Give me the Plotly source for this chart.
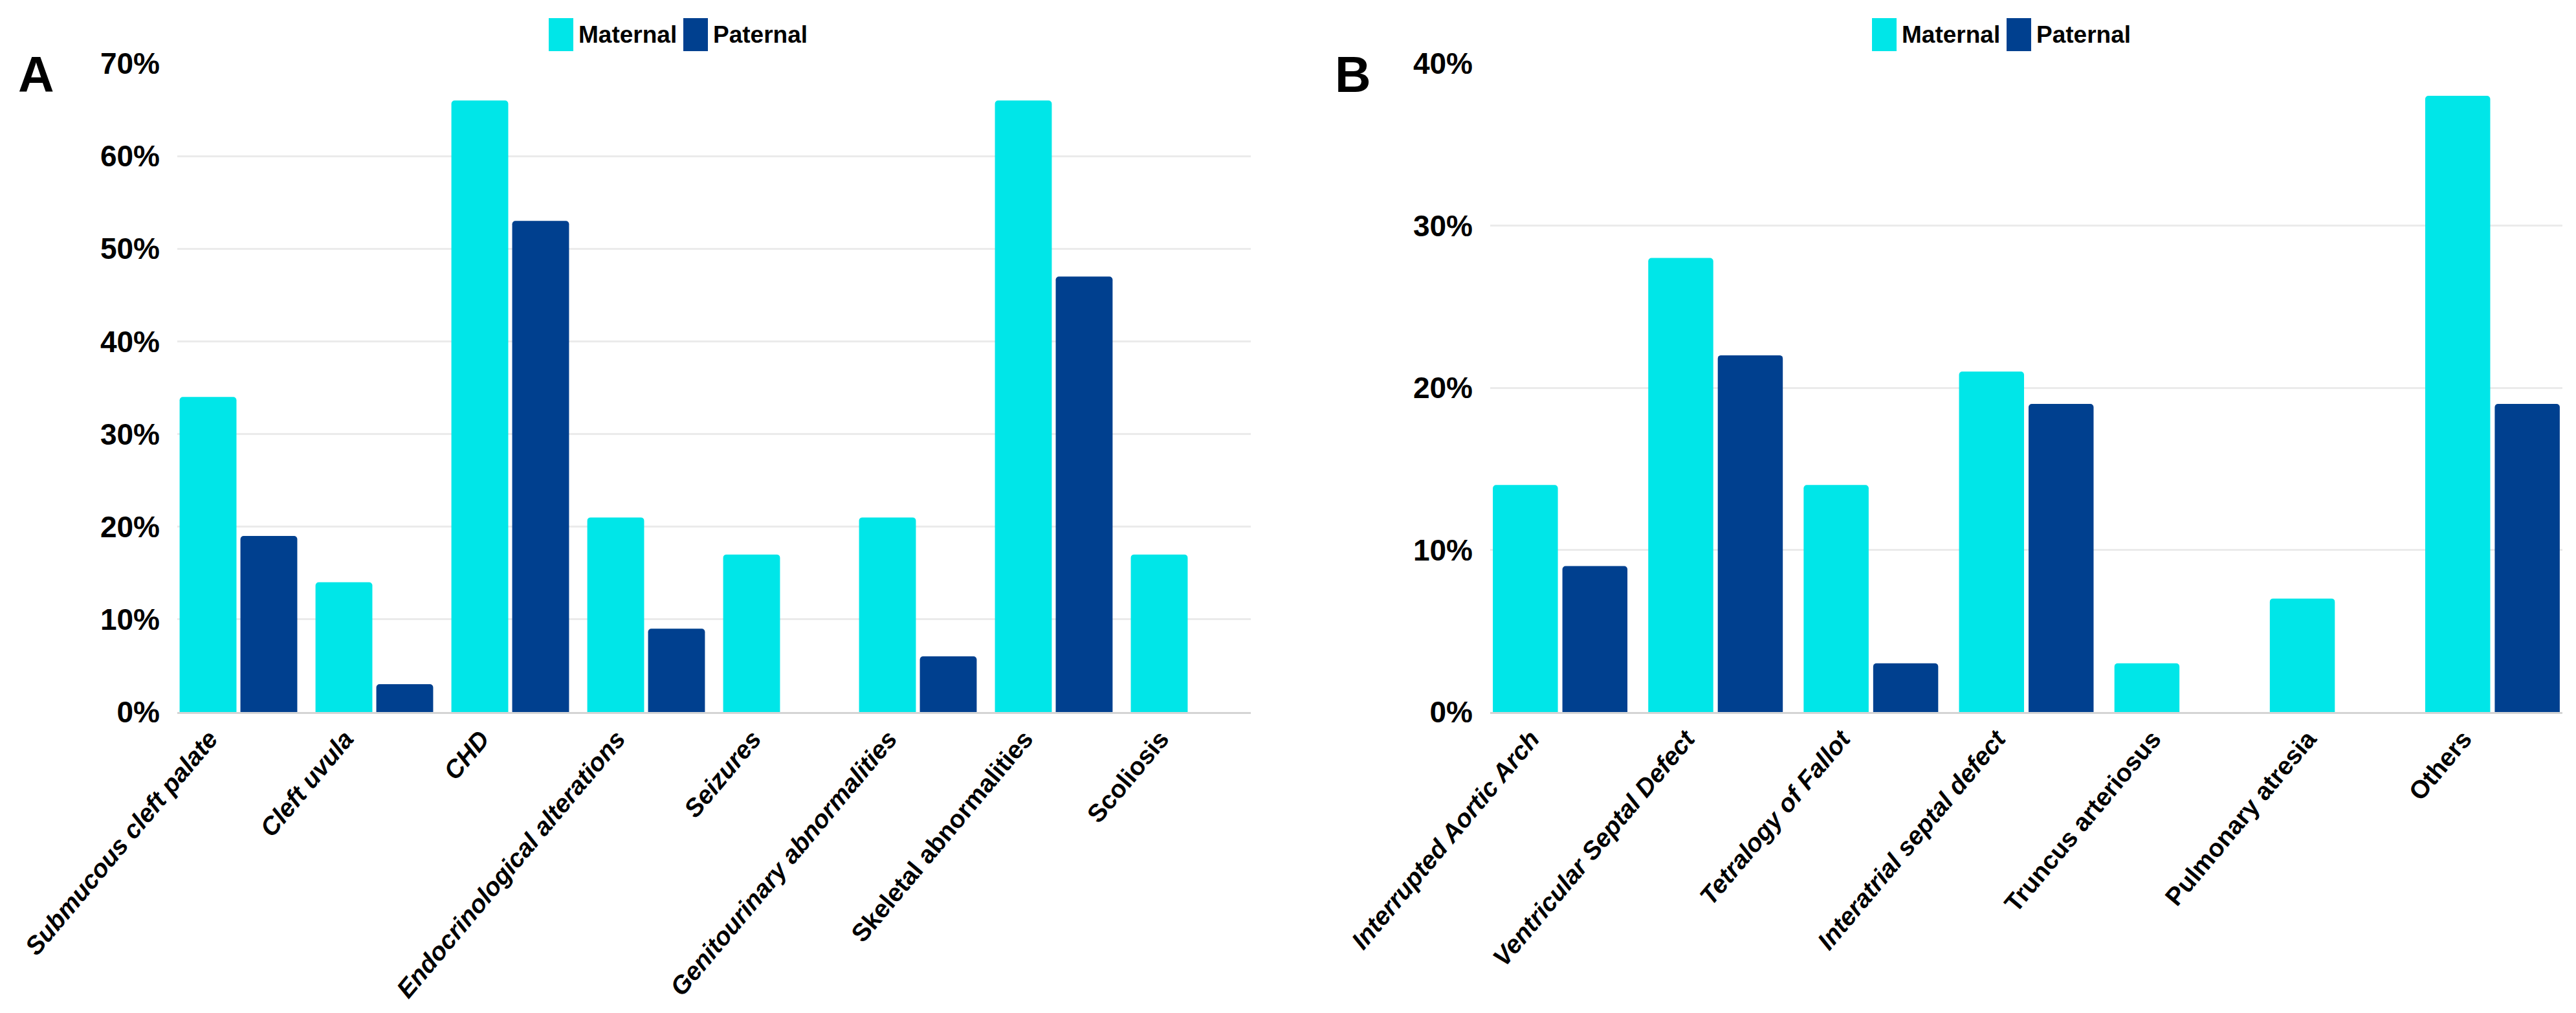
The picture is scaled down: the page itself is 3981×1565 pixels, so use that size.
import plotly.graph_objects as go

# ---------------- data ----------------
categories_a = ["Submucous cleft palate", "Cleft uvula", "CHD", "Endocrinological alterations",
                "Seizures", "Genitourinary abnormalities", "Skeletal abnormalities", "Scoliosis"]
maternal_a = [34, 14, 66, 21, 17, 21, 66, 17]
paternal_a = [19, 3, 53, 9, 0, 6, 47, 0]
italic_a = [True, True, True, True, True, True, False, False]

categories_b = ["Interrupted Aortic Arch", "Ventricular Septal Defect", "Tetralogy of Fallot",
                "Interatrial septal defect", "Truncus arteriosus", "Pulmonary atresia", "Others"]
maternal_b = [14, 28, 14, 21, 3, 7, 38]
paternal_b = [9, 22, 3, 19, 0, 0, 19]
italic_b = [True, True, True, True, False, False, False]

series_names = ["Maternal", "Paternal"]
y_ticks_a = [0, 10, 20, 30, 40, 50, 60, 70]
y_ticks_b = [0, 10, 20, 30, 40]
panel_labels = ["A", "B"]

# ---------------- style ----------------
W, H = 3981, 1565
COL_MAT = "#00E6E8"
COL_PAT = "#00408F"
colors = [COL_MAT, COL_PAT]
FONT = "Liberation Sans, Arial, sans-serif"

def px_x(p):
    return p / W

def px_y(p):
    return 1 - p / H

def tick_text(cats, italics):
    return [f"<i>{c}</i>" if it else c for c, it in zip(cats, italics)]

fig = go.Figure()

panels = [
    (categories_a, [maternal_a, paternal_a], "x", "y"),
    (categories_b, [maternal_b, paternal_b], "x2", "y2"),
]
for cats, series, xa, ya in panels:
    for name, vals, col in zip(series_names, series, colors):
        fig.add_trace(go.Bar(
            x=cats, y=vals, name=name, xaxis=xa, yaxis=ya,
            marker=dict(color=col, line=dict(width=0), cornerradius=5),
            showlegend=False,
        ))

# plot area geometry (pixels)
A_left, A_right = 266, 1925
B_left, B_right = 2295, 3952
top_px, bot_px = 90, 1092
ydom = [px_y(bot_px), px_y(top_px)]

common_x = dict(
    type="category", tickangle=-50, showgrid=False, zeroline=False,
    showline=True, linecolor="#D4D4D4", linewidth=3, ticks="",
    ticklabelshift=-45,
    tickfont=dict(family=FONT, size=39, color="#000000", weight="bold"),
    automargin=False, fixedrange=True,
)
common_y = dict(
    showgrid=True, gridcolor="#EBEBEB", gridwidth=3, zeroline=False,
    showline=False, ticks="", ticklabelstandoff=26,
    tickfont=dict(family=FONT, size=46, color="#000000", weight="bold"),
    automargin=False, fixedrange=True,
)

nA, nB = len(categories_a), len(categories_b)
fig.update_layout(
    width=W, height=H,
    margin=dict(l=0, r=0, t=0, b=0),
    paper_bgcolor="white", plot_bgcolor="white",
    barmode="group", bargap=0.105, bargroupgap=0.065,
    showlegend=False,
    xaxis=dict(domain=[px_x(A_left), px_x(A_right)], anchor="y",
               range=[-0.45, nA - 0.55],
               tickvals=categories_a, ticktext=tick_text(categories_a, italic_a), **common_x),
    yaxis=dict(domain=ydom, anchor="x", range=[0, y_ticks_a[-1]],
               tickvals=y_ticks_a, ticktext=[f"{v}%" for v in y_ticks_a], **common_y),
    xaxis2=dict(domain=[px_x(B_left), px_x(B_right)], anchor="y2",
                range=[-0.45, nB - 0.55],
                tickvals=categories_b, ticktext=tick_text(categories_b, italic_b), **common_x),
    yaxis2=dict(domain=ydom, anchor="x2", range=[0, y_ticks_b[-1]],
                tickvals=y_ticks_b, ticktext=[f"{v}%" for v in y_ticks_b], **common_y),
)

# ---------------- legends (one above each panel) + panel letters ----------------
shapes = []
annotations = []
legend_starts = [840, 2885]     # left edge of the first legend swatch, pixels
letter_xs = [18, 2053]
for start, letter_x, letter in zip(legend_starts, letter_xs, panel_labels):
    sw_w, sw_top, sw_bot = 38, 20, 71
    for sx, name, col in zip([start, start + 208], series_names, colors):
        shapes.append(dict(type="rect", xref="paper", yref="paper",
                           x0=px_x(sx), x1=px_x(sx + sw_w), y0=px_y(sw_bot), y1=px_y(sw_top),
                           fillcolor=col, line=dict(width=0), layer="above"))
        annotations.append(dict(xref="paper", yref="paper", x=px_x(sx + sw_w + 6), y=px_y(46),
                                xanchor="left", yanchor="middle", showarrow=False, text=name,
                                font=dict(family=FONT, size=37, color="#000000", weight="bold")))
    annotations.append(dict(xref="paper", yref="paper", x=px_x(letter_x), y=px_y(107),
                            xanchor="left", yanchor="middle", showarrow=False, text=letter,
                            font=dict(family=FONT, size=77, color="#000000", weight="bold")))

fig.update_layout(shapes=shapes, annotations=annotations)

fig.write_html("out.html")
